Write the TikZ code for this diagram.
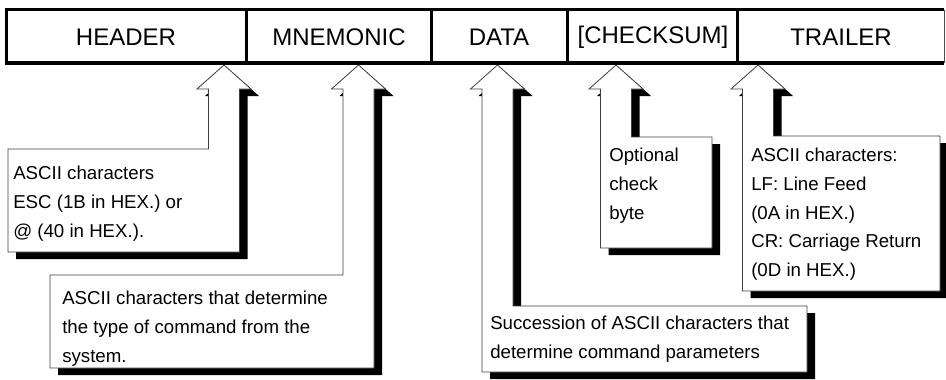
\documentclass[tikz,border=0pt]{standalone}
\usepackage{fontspec}
\setmainfont{Liberation Sans}
\usetikzlibrary{positioning}

\begin{document}
\begin{tikzpicture}[
		x=0.75pt,y=-0.75pt,
		frame line/.style={line width=2.7pt,line join=miter},
		field text/.style={font=\fontsize{18}{18}\selectfont,inner sep=0pt},
		callout/.style={draw=black!75,line width=0.6pt,fill=white},
		drop shadow/.style={fill=black,shift={(8,7)}},
		note text/.style={font=\fontsize{14}{21.5}\selectfont,align=left,
			anchor=north west,inner sep=0pt}
	]
		\useasboundingbox (0,0) rectangle (946,379);

		% Callouts whose box lies left of the stem.
		\foreach \tx/\bl/\bt/\bb in {224/8/149/252, 358.5/50/275/368}{
			\fill[drop shadow] (\tx,65) -- (\tx+27,89) -- (\tx+15.5,89) -- (\tx+15.5,\bb)
				-- (\bl,\bb) -- (\bl,\bt) -- (\tx-15.5,\bt) -- (\tx-15.5,89) -- (\tx-27,89) -- cycle;
			\draw[callout] (\tx,65) -- (\tx+27,89) -- (\tx+15.5,89) -- (\tx+15.5,\bb)
				-- (\bl,\bb) -- (\bl,\bt) -- (\tx-15.5,\bt) -- (\tx-15.5,89) -- (\tx-27,89) -- cycle;
		}

		% Callouts whose box lies right of the stem.
		\foreach \tx/\br/\bt/\bb in {497.5/807/306/372, 616/712/137/248, 758/940/136/291}{
			\fill[drop shadow] (\tx,65) -- (\tx+27,89) -- (\tx+15.5,89) -- (\tx+15.5,\bt)
				-- (\br,\bt) -- (\br,\bb) -- (\tx-15.5,\bb) -- (\tx-15.5,89) -- (\tx-27,89) -- cycle;
			\draw[callout] (\tx,65) -- (\tx+27,89) -- (\tx+15.5,89) -- (\tx+15.5,\bt)
				-- (\br,\bt) -- (\br,\bb) -- (\tx-15.5,\bb) -- (\tx-15.5,89) -- (\tx-27,89) -- cycle;
		}

		% Command frame and its fields.
		\draw[frame line] (944,9.5) -- (6.5,9.5) -- (6.5,63) -- (944,63);
		\draw[line width=0.6pt,black!70] (944,9.5) -- (944,63);
		\foreach \x in {246.5,431.5,567.5,737.5}
			\draw[frame line] (\x,9.5) -- (\x,63);
		\node[field text] (header) at (126,37) {HEADER};
		\node[field text] (mnemonic) at (339,37) {MNEMONIC};
		\node[field text] (data) at (499,37) {DATA};
		\node[field text] (checksum) at (653,37) {[CHECKSUM]};
		\node[field text] (trailer) at (841,37) {TRAILER};

		% Explanations inside the callouts.
		\node[note text] (headernote) at (13,166)
			{ASCII characters\\ESC (1B in HEX.) or\\@ (40 in HEX.).};
		\node[note text] (mnemonicnote) at (62,291)
			{ASCII characters that determine\\the type of command from the\\system.};
		\node[note text] (datanote) at (490,316)
			{Succession of ASCII characters that\\determine command parameters};
		\node[note text] (checksumnote) at (609,148)
			{Optional\\check\\byte};
		\node[note text] (trailernote) at (751,148)
			{ASCII characters:\\LF: Line Feed\\(0A in HEX.)\\CR: Carriage Return\\(0D in HEX.)};
	\end{tikzpicture}
\end{document}
